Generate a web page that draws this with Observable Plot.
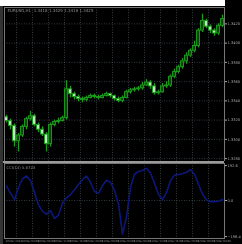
<!DOCTYPE html>
<html><head><meta charset="utf-8">
<script src="https://cdn.jsdelivr.net/npm/d3@7"></script>
<script src="https://cdn.jsdelivr.net/npm/@observablehq/plot@0.6"></script>
<style>
html,body{margin:0;padding:0;background:#000;}
#wrap{position:relative;width:242px;height:244px;background:#000;overflow:hidden;filter:blur(0.7px);}
#main{position:absolute;left:0;top:0;}
#sub{position:absolute;left:0;top:161px;}
#top{position:absolute;left:0;top:0;width:225px;height:6px;background:#fff;}
#left{position:absolute;left:0;top:6px;width:3px;height:238px;background:#333;}
#sep{position:absolute;left:3px;top:161px;width:221px;height:2px;background:#9a9a9a;}
</style></head><body>
<div id="wrap"><div id="main"></div><div id="sub"></div><div id="top"></div><div id="left"></div><div id="sep"></div></div>
<script>
const symbolHeader = "EURUSD,H1  1.3418 1.3429 1.3416 1.3425";
const indicatorHeader = "CCI(14) 5.8723";
const open = [1.3323,1.3319,1.3314,1.3298,1.3304,1.3313,1.3321,1.3324,1.3315,1.3310,1.3305,1.3295,1.3315,1.3318,1.3319,1.3322,1.3352,1.3347,1.3344,1.3342,1.3341,1.3343,1.3345,1.3344,1.3343,1.3345,1.3347,1.3345,1.3342,1.3340,1.3343,1.3349,1.3351,1.3352,1.3353,1.3356,1.3359,1.3355,1.3348,1.3349,1.3355,1.3356,1.3365,1.3370,1.3375,1.3381,1.3387,1.3392,1.3397,1.3413,1.3423,1.3417,1.3413,1.3410,1.3418];
const high = [1.3325,1.3321,1.3316,1.3306,1.3315,1.3323,1.3329,1.3326,1.3317,1.3313,1.3307,1.3317,1.3320,1.3322,1.3324,1.3361,1.3355,1.3349,1.3346,1.3344,1.3345,1.3347,1.3347,1.3346,1.3347,1.3349,1.3348,1.3346,1.3344,1.3345,1.3351,1.3353,1.3354,1.3355,1.3359,1.3362,1.3361,1.3358,1.3351,1.3358,1.3360,1.3367,1.3373,1.3377,1.3384,1.3390,1.3394,1.3402,1.3415,1.3430,1.3425,1.3419,1.3415,1.3420,1.3429];
const low = [1.3317,1.3310,1.3292,1.3287,1.3302,1.3310,1.3319,1.3313,1.3307,1.3303,1.3287,1.3292,1.3313,1.3316,1.3318,1.3320,1.3343,1.3341,1.3339,1.3338,1.3339,1.3342,1.3342,1.3341,1.3342,1.3344,1.3343,1.3340,1.3338,1.3338,1.3342,1.3347,1.3349,1.3350,1.3351,1.3355,1.3352,1.3346,1.3346,1.3348,1.3353,1.3354,1.3363,1.3368,1.3373,1.3378,1.3385,1.3390,1.3395,1.3411,1.3415,1.3410,1.3407,1.3408,1.3416];
const close = [1.3319,1.3314,1.3298,1.3304,1.3313,1.3321,1.3324,1.3315,1.3310,1.3305,1.3295,1.3315,1.3318,1.3319,1.3322,1.3352,1.3347,1.3344,1.3342,1.3341,1.3343,1.3345,1.3344,1.3343,1.3345,1.3347,1.3345,1.3342,1.3340,1.3343,1.3349,1.3351,1.3352,1.3353,1.3356,1.3359,1.3355,1.3348,1.3349,1.3355,1.3356,1.3365,1.3370,1.3375,1.3381,1.3387,1.3392,1.3397,1.3413,1.3423,1.3417,1.3413,1.3410,1.3418,1.3425];
const cci = [80,40,5,72,120,135,110,45,-25,-60,-75,-55,-100,-80,-15,15,33,60,88,115,135,100,50,40,83,112,100,55,-20,-185,-90,72,145,160,165,178,150,95,33,5,45,110,140,143,148,156,171,145,90,35,3,-6,-6,-4,6];
const priceTicks = [1.3280,1.3300,1.3320,1.3340,1.3360,1.3380,1.3400,1.3420];
const cciTicks = [192.6,0,-198.4];
const gridBars = [2.5,6.5,10.5,14.5,18.5,22.5,26.5,30.5,34.5,38.5,42.5,46.5,50.5];
const dateBars = [-0.25,3.75,7.75,11.75,15.75,19.75,23.75,27.75,31.75,35.75,39.75,43.75,47.75,51.75];
const dateLabels = ["10 Mar 2014","10 Mar 04:00","10 Mar 08:00","10 Mar 12:00","10 Mar 16:00","10 Mar 20:00","11 Mar 00:00","11 Mar 04:00","11 Mar 08:00","11 Mar 12:00","11 Mar 16:00","11 Mar 20:00","12 Mar 00:00","12 Mar 04:00"];

const bars = close.map((c, i) => ({i, o: open[i], h: high[i], l: low[i], c}));
const bulls = bars.filter(d => d.c >= d.o);
const bears = bars.filter(d => d.c < d.o);
const xDomain = [-0.5, 54.5];
const green = "#1a9c1a";
const gridStyle = {stroke: "#8090a0", strokeOpacity: 0.5, strokeDasharray: "1,1.5", strokeWidth: 0.8};
const baseStyle = {background: "#000", color: "#a8a8a8", fontFamily: "DejaVu Sans", fontSize: "3.6px", overflow: "visible"};

const main = Plot.plot({
  width: 242, height: 161,
  marginLeft: 4, marginRight: 18, marginTop: 7, marginBottom: 0,
  style: baseStyle,
  x: {domain: xDomain, axis: null},
  y: {domain: [1.3277, 1.3437], axis: "right", ticks: priceTicks, tickFormat: d3.format(".4f"), tickSize: 2, tickPadding: 1, label: null},
  marks: [
    Plot.ruleX(gridBars, gridStyle),
    Plot.ruleY(priceTicks, gridStyle),
    Plot.ruleX(bars, {x: "i", y1: "l", y2: "h", stroke: green, strokeWidth: 1.3}),
    Plot.rect(bulls, {x1: d => d.i - 0.36, x2: d => d.i + 0.36, y1: "o", y2: "c", fill: "#0c400c", stroke: green, strokeWidth: 1}),
    Plot.rect(bears, {x1: d => d.i - 0.36, x2: d => d.i + 0.36, y1: "o", y2: "c", fill: "#c8eec8", stroke: green, strokeWidth: 1}),
    Plot.frame({stroke: "#777", strokeWidth: 1}),
    Plot.text([symbolHeader], {frameAnchor: "top-left", dx: 3, dy: 2, textAnchor: "start", fill: "#909090", fontSize: 4})
  ]
});
document.getElementById("main").appendChild(main);

const sub = Plot.plot({
  width: 242, height: 83,
  marginLeft: 4, marginRight: 18, marginTop: 2, marginBottom: 6,
  style: baseStyle,
  x: {domain: xDomain, axis: null},
  y: {domain: [-209, 204], axis: "right", ticks: cciTicks, tickFormat: d3.format(".1f"), tickSize: 2, tickPadding: 1, label: null},
  marks: [
    Plot.ruleX(gridBars, gridStyle),
    Plot.ruleY([0], gridStyle),
    Plot.line(cci, {x: (d, i) => i, y: d => d, stroke: "#0c1878", strokeWidth: 1.6}),
    Plot.frame({stroke: "#777", strokeWidth: 1}),
    Plot.text([indicatorHeader], {frameAnchor: "top-left", dx: 2, dy: 3, textAnchor: "start", fill: "#909090", fontSize: 3.8}),
    Plot.text(dateLabels, {x: dateBars, frameAnchor: "bottom", dy: 3.5, textAnchor: "start", fill: "#909090", fontSize: 2.6})
  ]
});
document.getElementById("sub").appendChild(sub);
</script>
</body></html>
